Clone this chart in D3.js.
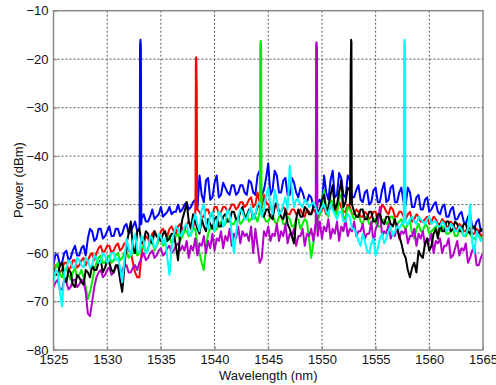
<!DOCTYPE html>
<html>
<head>
<meta charset="utf-8">
<script src="https://cdn.jsdelivr.net/npm/d3@7"></script>
<style>
  html, body { margin: 0; padding: 0; background: #fff; }
  #chart { width: 496px; height: 385px; }
  text { font-family: Arial, "Liberation Sans", sans-serif; fill: #111; }
</style>
</head>
<body>
<div id="chart"></div>
<script>
// sampling grid of the spectra (nm): values sit on the grid, mids halfway between
const gridStart = 1525;
const gridStep = 0.4;

const xTicks = [1525, 1530, 1535, 1540, 1545, 1550, 1555, 1560, 1565];
const yTicks = [-80, -70, -60, -50, -40, -30, -20, -10];

// spectra (dBm)
const blueValues = [
    -62.5, -60.5, -62, -59.5, -61, -58.5, -60.5, -58.5, -57, -55.5,
    -57, -55, -56.5, -54.5, -56.5, -55, -56, -54, -55.5, -53.5,
    -55, -52, -53.5, -51, -52.5, -50.5, -52, -50.5, -51.5, -50,
    -51, -49.5, -50.5, -49, -44, -49.5, -44.5, -48.5, -44, -48,
    -46.5, -48, -46, -47.5, -46, -48, -45.5, -48, -43, -47,
    -41.5, -47, -44, -47.5, -44.5, -48, -45.5, -48.5, -47.5, -49.5,
    -48.5, -50.5, -49, -44, -49, -43, -48, -44.5, -48.5, -45,
    -48.5, -46, -49.5, -47, -49.5, -46.5, -49.5, -45.5, -49, -46,
    -49.5, -46.5, -50, -47.5, -50.5, -48, -51, -48.5, -51, -49.5,
    -52, -50, -52.5, -50.5, -53, -51.5, -54, -52, -55, -53,
    -55
];
const blueMids = [
    -60, -62.5, -60, -61.5, -59.5, -60.5, -59, -60.5, -55, -57.5,
    -55, -57, -55.5, -56.5, -55, -56.5, -54.5, -56, -54.5, -55.5,
    -53, -53.5, -52.5, -53, -52, -52.5, -51.5, -52, -51.5, -51.5,
    -50, -51, -49.5, -51, -48, -45, -49, -45.5, -48.5, -45.5,
    -47.5, -46, -48, -46, -47.5, -45, -47.5, -44, -48, -44.5,
    -48, -43, -47.5, -45, -48, -44.5, -47.5, -46.5, -49, -48,
    -50.5, -49.5, -50.5, -47.5, -45, -48.5, -43.5, -48, -44, -48.5,
    -47, -49, -47.5, -50, -47, -49.5, -47, -49.5, -46.5, -49.5,
    -47.5, -49.5, -46.5, -50.5, -48.5, -51, -49, -51.5, -50, -51.5,
    -50.5, -52.5, -51, -53, -52, -53.5, -52.5, -54.5, -53.5, -55.5
];
const redValues = [
    -64, -62.5, -63.5, -62, -63, -61.5, -62.5, -61, -61.5, -60,
    -60, -58.5, -59.5, -58.5, -59.5, -58, -59, -58.5, -60, -64,
    -65, -58, -57, -56, -56.5, -55.5, -56, -55, -55.5, -54.5,
    -55, -54, -54.5, -52, -51.5, -52.5, -51, -52, -50.5, -51.5,
    -50.5, -51, -50, -50.5, -49.5, -50, -48.5, -50, -49.5, -48,
    -50, -51, -50.5, -51.5, -51, -52, -51, -51.5, -52, -51,
    -52, -51.5, -52, -50.5, -51.5, -50, -51, -50.5, -51.5, -50.5,
    -52, -51.5, -52.5, -52, -52.5, -51.5, -52, -50.5, -52, -51,
    -52.5, -51.5, -53, -51.5, -53, -52.5, -53.5, -52.5, -53.5, -53,
    -54, -53.5, -54.5, -54, -55, -54.5, -55.5, -55, -56, -55.5,
    -56
];
const redMids = [
    -62.5, -64, -62, -63.5, -61.5, -63, -61.5, -62.5, -60.5, -61.5,
    -59, -60, -58.5, -60, -58.5, -59.5, -58, -59.5, -62, -65,
    -60, -56.5, -58, -55.5, -57, -55, -56.5, -54.5, -56, -54,
    -55.5, -53.5, -55, -51, -52.5, -51, -52.5, -50.5, -52, -50.5,
    -51.5, -50, -51, -49.5, -50.5, -49, -50.5, -47.5, -50.5, -49.5,
    -51, -50, -51.5, -50.5, -52, -51, -52, -51, -52.5, -51.5,
    -51, -52.5, -51, -52, -50.5, -51.5, -49.5, -51.5, -50, -52,
    -51, -52.5, -51.5, -53, -51.5, -53, -50, -51.5, -50.5, -52.5,
    -51.5, -52.5, -52, -53.5, -52, -53.5, -53, -54, -52.5, -54,
    -53, -54.5, -53.5, -55, -54, -55.5, -54.5, -56, -55, -56.5
];
const greenValues = [
    -64, -62, -65, -63, -65.5, -63, -64.5, -65, -69.5, -66,
    -62, -60.5, -62, -60.5, -61.5, -60, -61, -59.5, -60.5, -59,
    -60, -58.5, -59, -57.5, -58.5, -57, -58, -56.5, -57.5, -56,
    -56.5, -55.5, -56, -55, -60, -63.5, -56, -54.5, -55, -53.5,
    -54, -53, -54, -52.5, -53.5, -52, -53, -52.5, -51.5, -52.5,
    -53.5, -52, -54, -52.5, -54, -53, -54.5, -53, -54, -53.5,
    -61, -55, -52, -47, -52.5, -49.5, -52, -48, -52.5, -51,
    -53, -52, -54, -52.5, -54, -53, -54.5, -53, -53.5, -52.5,
    -54, -53, -55, -53.5, -57, -54, -55.5, -54.5, -55.5, -54.5,
    -55.5, -55, -56, -55, -56.5, -55.5, -56.5, -56, -57, -56,
    -56.5
];
const greenMids = [
    -63, -64.5, -63.5, -64.5, -64, -65, -63.5, -67, -68, -63.5,
    -61, -62, -61, -62, -60.5, -61.5, -60, -61, -60, -60.5,
    -59, -60, -58, -59.5, -57.5, -58.5, -57, -58, -56.5, -57.5,
    -55.5, -56.5, -55, -58, -62, -59, -55, -55.5, -54, -54.5,
    -53, -54, -53, -54, -52.5, -53.5, -52, -53.5, -52, -53.5,
    -52.5, -53.5, -52.5, -54, -52.5, -54.5, -53, -55, -53, -57,
    -58, -53.5, -50, -51.5, -49, -51.5, -48.5, -53, -50.5, -52,
    -52.5, -53.5, -52.5, -54, -53, -54.5, -53.5, -54, -52.5, -54,
    -53.5, -54.5, -54, -56, -55, -55.5, -54, -56, -55, -56,
    -54.5, -56, -55.5, -56.5, -55, -56.5, -55.5, -57, -56.5, -57.5
];
const magentaValues = [
    -67, -65.5, -67.5, -66, -67, -65.5, -66.5, -66, -72.5, -70,
    -65, -63.5, -64.5, -63, -64, -62.5, -63.5, -62.5, -64, -62.5,
    -62, -60, -61, -59.5, -60.5, -59, -60, -58.5, -59.5, -58,
    -58.5, -57.5, -58.5, -57, -58, -56.5, -57.5, -56, -57, -55.5,
    -56.5, -55, -56, -54.5, -55.5, -56, -54.5, -55, -62, -55.5,
    -54.5, -56, -54, -55.5, -54, -56, -55, -56.5, -55, -56,
    -55, -54, -53.5, -54.5, -53, -55, -53.5, -54.5, -53, -55,
    -53.5, -55.5, -54, -56, -53.5, -55, -50.5, -55.5, -54, -56,
    -54, -55.5, -55, -56.5, -55, -56, -55.5, -57, -56, -57.5,
    -57, -58.5, -57, -60.5, -57.5, -59, -58, -61, -58.5, -62.5,
    -60
];
const magentaMids = [
    -66, -67.5, -65.5, -67.5, -65.5, -67, -65.5, -68, -73, -67,
    -64, -65, -63.5, -64.5, -63, -64.5, -62.5, -64, -63, -63.5,
    -61, -61.5, -60, -61, -59.5, -60.5, -59, -60, -58.5, -59.5,
    -59.5, -61, -59.5, -60.5, -58.5, -60, -59, -59.5, -57.5, -59,
    -57.5, -58.5, -57, -58, -56.5, -57.5, -60, -58.5, -61, -56.5,
    -57.5, -56.5, -57.5, -56.5, -58, -56.5, -58.5, -56.5, -58.5, -56.5,
    -57.5, -56.5, -57, -55.5, -57, -56, -57.5, -55.5, -56.5, -55.5,
    -56.5, -55.5, -57, -56, -58, -54, -56.5, -56, -57, -56.5,
    -57, -56, -58, -56.5, -58.5, -57, -58.5, -57.5, -60, -58,
    -60, -58.5, -61, -59, -60.5, -59.5, -62, -59.5, -62.5, -61
];
const blackValues = [
    -63, -64.5, -62, -66, -64, -67, -65, -66.5, -64, -62.5,
    -63.5, -61.5, -63, -62, -64, -62.5, -68, -58, -53.5, -60,
    -55, -57.5, -56, -58, -56.5, -57.5, -55.5, -57, -56, -61.5,
    -53, -49.5, -55, -53.5, -56, -54.5, -53, -55, -52.5, -54.5,
    -52, -53.5, -51.5, -53, -50.5, -52.5, -51, -52, -50, -52.5,
    -51, -53, -49.5, -52.5, -51, -55, -58, -51, -52.5, -51,
    -52, -50.5, -51, -48, -50.5, -46, -50, -45, -49.5, -47,
    -51.5, -52.5, -51, -53, -51.5, -53.5, -52, -54, -52.5, -54.5,
    -55, -58, -61, -65, -62, -59.5, -61, -57, -58.5, -55,
    -54, -55.5, -53.5, -55, -54, -55.5, -54, -56, -54.5, -56,
    -55.5
];
const blackMids = [
    -64.5, -62.5, -65, -63.5, -66.5, -64.5, -66, -63.5, -65, -63.5,
    -62, -64, -61.5, -63.5, -62.5, -65.5, -63, -56, -59, -55.5,
    -58, -55.5, -57.5, -55.5, -57, -56, -57.5, -56, -58.5, -56,
    -51.5, -53.5, -52, -55, -53, -55.5, -54, -53, -54.5, -52.5,
    -53.5, -51.5, -53, -51.5, -52.5, -51, -53, -50.5, -51.5, -51,
    -52.5, -50.5, -51.5, -53, -54, -56.5, -53, -52.5, -50.5, -52,
    -50.5, -52, -49, -51.5, -48, -51, -47.5, -50.5, -46.5, -50,
    -52.5, -51, -53, -51.5, -53.5, -52, -53.5, -52.5, -54, -53,
    -56.5, -60, -63.5, -63, -64, -60.5, -58, -59.5, -56, -57,
    -55.5, -53.5, -55.5, -53.5, -55.5, -54, -55.5, -54.5, -56, -55
];
const cyanValues = [
    -66, -64, -71, -63, -62, -63, -61.5, -63, -61.5, -62.5,
    -61, -62, -60.5, -61.5, -60, -61, -66, -57, -60.5, -56,
    -60, -57.5, -59.5, -57, -58.5, -56.5, -57, -64.5, -56, -55,
    -56, -54, -56.5, -52, -55.5, -50, -55, -51.5, -54, -52,
    -53.5, -52, -60, -52.5, -51.5, -53, -50.5, -52, -49.5, -51,
    -46.5, -52, -49, -51.5, -48.5, -42, -50.5, -49, -50.5, -49.5,
    -50, -50.5, -51.5, -50, -52, -51, -53, -51.5, -53.5, -52.5,
    -55, -57.5, -56, -59.5, -58, -60.5, -57, -58, -55.5, -56.5,
    -54.5, -54, -53.5, -53, -53.5, -52.5, -53.5, -53, -54, -53.5,
    -54.5, -54, -55, -54.5, -55.5, -55, -56, -50, -60, -56.5,
    -57
];
const cyanMids = [
    -63.5, -68, -64, -61.5, -63, -61, -62.5, -61, -63, -60.5,
    -62, -60, -62, -60, -61.5, -63, -61.5, -59, -57.5, -59.5,
    -56.5, -60, -56.5, -59, -56, -58, -61, -59, -54.5, -56.5,
    -54.5, -56, -53.5, -54, -51, -54, -52, -55.5, -51.5, -54.5,
    -51, -56, -56, -51, -53, -51.5, -53, -50, -52.5, -48,
    -50, -47, -52, -50, -51, -47, -49, -50, -49, -50.5,
    -49.5, -52, -50.5, -51.5, -50, -52, -51.5, -53.5, -52, -55,
    -56, -58.5, -57.5, -60, -57, -59, -56, -57, -54.5, -55.5,
    -55, -53.5, -54, -52.5, -54, -53, -54, -52.5, -53.5, -54.5,
    -53.5, -55.5, -54, -55.5, -54.5, -56.5, -55, -58, -55.5, -57.5
];

// laser lines, [wavelength, power] pairs laid between sample points
const blueSpike = [[1533.02, -54], [1533.06, -17], [1533.1, -16], [1533.14, -17.5], [1533.18, -54], [1538.3, -50], [1538.34, -39], [1538.38, -50]];
const redSpike = [[1538.22, -50], [1538.26, -20], [1538.3, -19.6], [1538.34, -26], [1538.38, -51]];
const greenSpike = [[1544.22, -52], [1544.26, -17], [1544.3, -16.2], [1544.34, -18], [1544.38, -51]];
const magentaSpike = [[1549.42, -54], [1549.46, -17], [1549.5, -16.5], [1549.54, -18], [1549.58, -53]];
const blackSpike = [[1552.62, -50], [1552.65, -34], [1552.68, -22], [1552.72, -16], [1552.75, -16.5], [1552.78, -48]];
const cyanSpike = [[1557.62, -54], [1557.66, -17], [1557.7, -16], [1557.74, -17.5], [1557.78, -53]];

const seriesColors = ['#0000ff', '#ff0000', '#00ee00', '#b300c8', '#000000', '#00ffff'];

const series = [
    { values: blueValues, mids: blueMids, spike: blueSpike },
    { values: redValues, mids: redMids, spike: redSpike },
    { values: greenValues, mids: greenMids, spike: greenSpike },
    { values: magentaValues, mids: magentaMids, spike: magentaSpike },
    { values: blackValues, mids: blackMids, spike: blackSpike },
    { values: cyanValues, mids: cyanMids, spike: cyanSpike }
];

// layout
const width = 496;
const height = 385;
const plot = { left: 53.5, right: 483, top: 10.7, bottom: 350 };

const svg = d3.select('#chart')
    .append('svg')
    .attr('width', width)
    .attr('height', height);

const xScale = d3.scaleLinear().domain([1525, 1565]).range([plot.left, plot.right]);
const yScale = d3.scaleLinear().domain([-80, -10]).range([plot.bottom, plot.top]);

svg.append('defs').append('clipPath')
    .attr('id', 'plot-clip')
    .append('rect')
    .attr('x', plot.left)
    .attr('y', plot.top)
    .attr('width', plot.right - plot.left)
    .attr('height', plot.bottom - plot.top);

// grid
const grid = svg.append('g')
    .attr('stroke', '#444')
    .attr('stroke-width', 0.9)
    .attr('stroke-dasharray', '2,2');

grid.selectAll('.vgrid')
    .data(xTicks.slice(1, -1))
    .join('line')
    .attr('x1', d => xScale(d))
    .attr('x2', d => xScale(d))
    .attr('y1', plot.top)
    .attr('y2', plot.bottom);

grid.selectAll('.hgrid')
    .data(yTicks.slice(1, -1))
    .join('line')
    .attr('x1', plot.left)
    .attr('x2', plot.right)
    .attr('y1', d => yScale(d))
    .attr('y2', d => yScale(d));

// spectra
const line = d3.line()
    .x(d => xScale(d[0]))
    .y(d => yScale(d[1]));

const traces = svg.append('g').attr('clip-path', 'url(#plot-clip)');

series.forEach((s, i) => {
    const points = s.values.map((v, k) => [gridStart + k * gridStep, v])
        .concat(s.mids.map((v, k) => [gridStart + (k + 0.5) * gridStep, v]))
        .concat(s.spike)
        .sort((a, b) => a[0] - b[0]);

    traces.append('path')
        .attr('fill', 'none')
        .attr('stroke', seriesColors[i])
        .attr('stroke-width', 2)
        .attr('stroke-linejoin', 'round')
        .attr('d', line(points));
});

// axes
const xAxis = svg.append('g')
    .attr('transform', `translate(0,${plot.bottom})`)
    .call(d3.axisBottom(xScale).tickValues(xTicks).tickFormat(d3.format('d')).tickSize(-4).tickPadding(5));

const yAxis = svg.append('g')
    .attr('transform', `translate(${plot.left},0)`)
    .call(d3.axisLeft(yScale).tickValues(yTicks).tickFormat(d3.format('d')).tickSize(-4).tickPadding(5));

[xAxis, yAxis].forEach(ax => {
    ax.select('.domain').remove();
    ax.selectAll('.tick line').attr('stroke', '#888');
    ax.selectAll('text')
        .style('font-size', '13px')
        .style('font-family', 'Arial, "Liberation Sans", sans-serif')
        .attr('fill', '#111');
});

// box
svg.append('rect')
    .attr('x', plot.left)
    .attr('y', plot.top)
    .attr('width', plot.right - plot.left)
    .attr('height', plot.bottom - plot.top)
    .attr('fill', 'none')
    .attr('stroke', '#8a8a8a')
    .attr('stroke-width', 1.5);

// axis titles
svg.append('text')
    .attr('x', (plot.left + plot.right) / 2)
    .attr('y', 379.5)
    .style('font-size', '13px')
    .style('text-anchor', 'middle')
    .text('Wavelength (nm)');

svg.append('text')
    .attr('transform', 'translate(22.5,180) rotate(-90)')
    .style('font-size', '13px')
    .style('text-anchor', 'middle')
    .text('Power (dBm)');
</script>
</body>
</html>
